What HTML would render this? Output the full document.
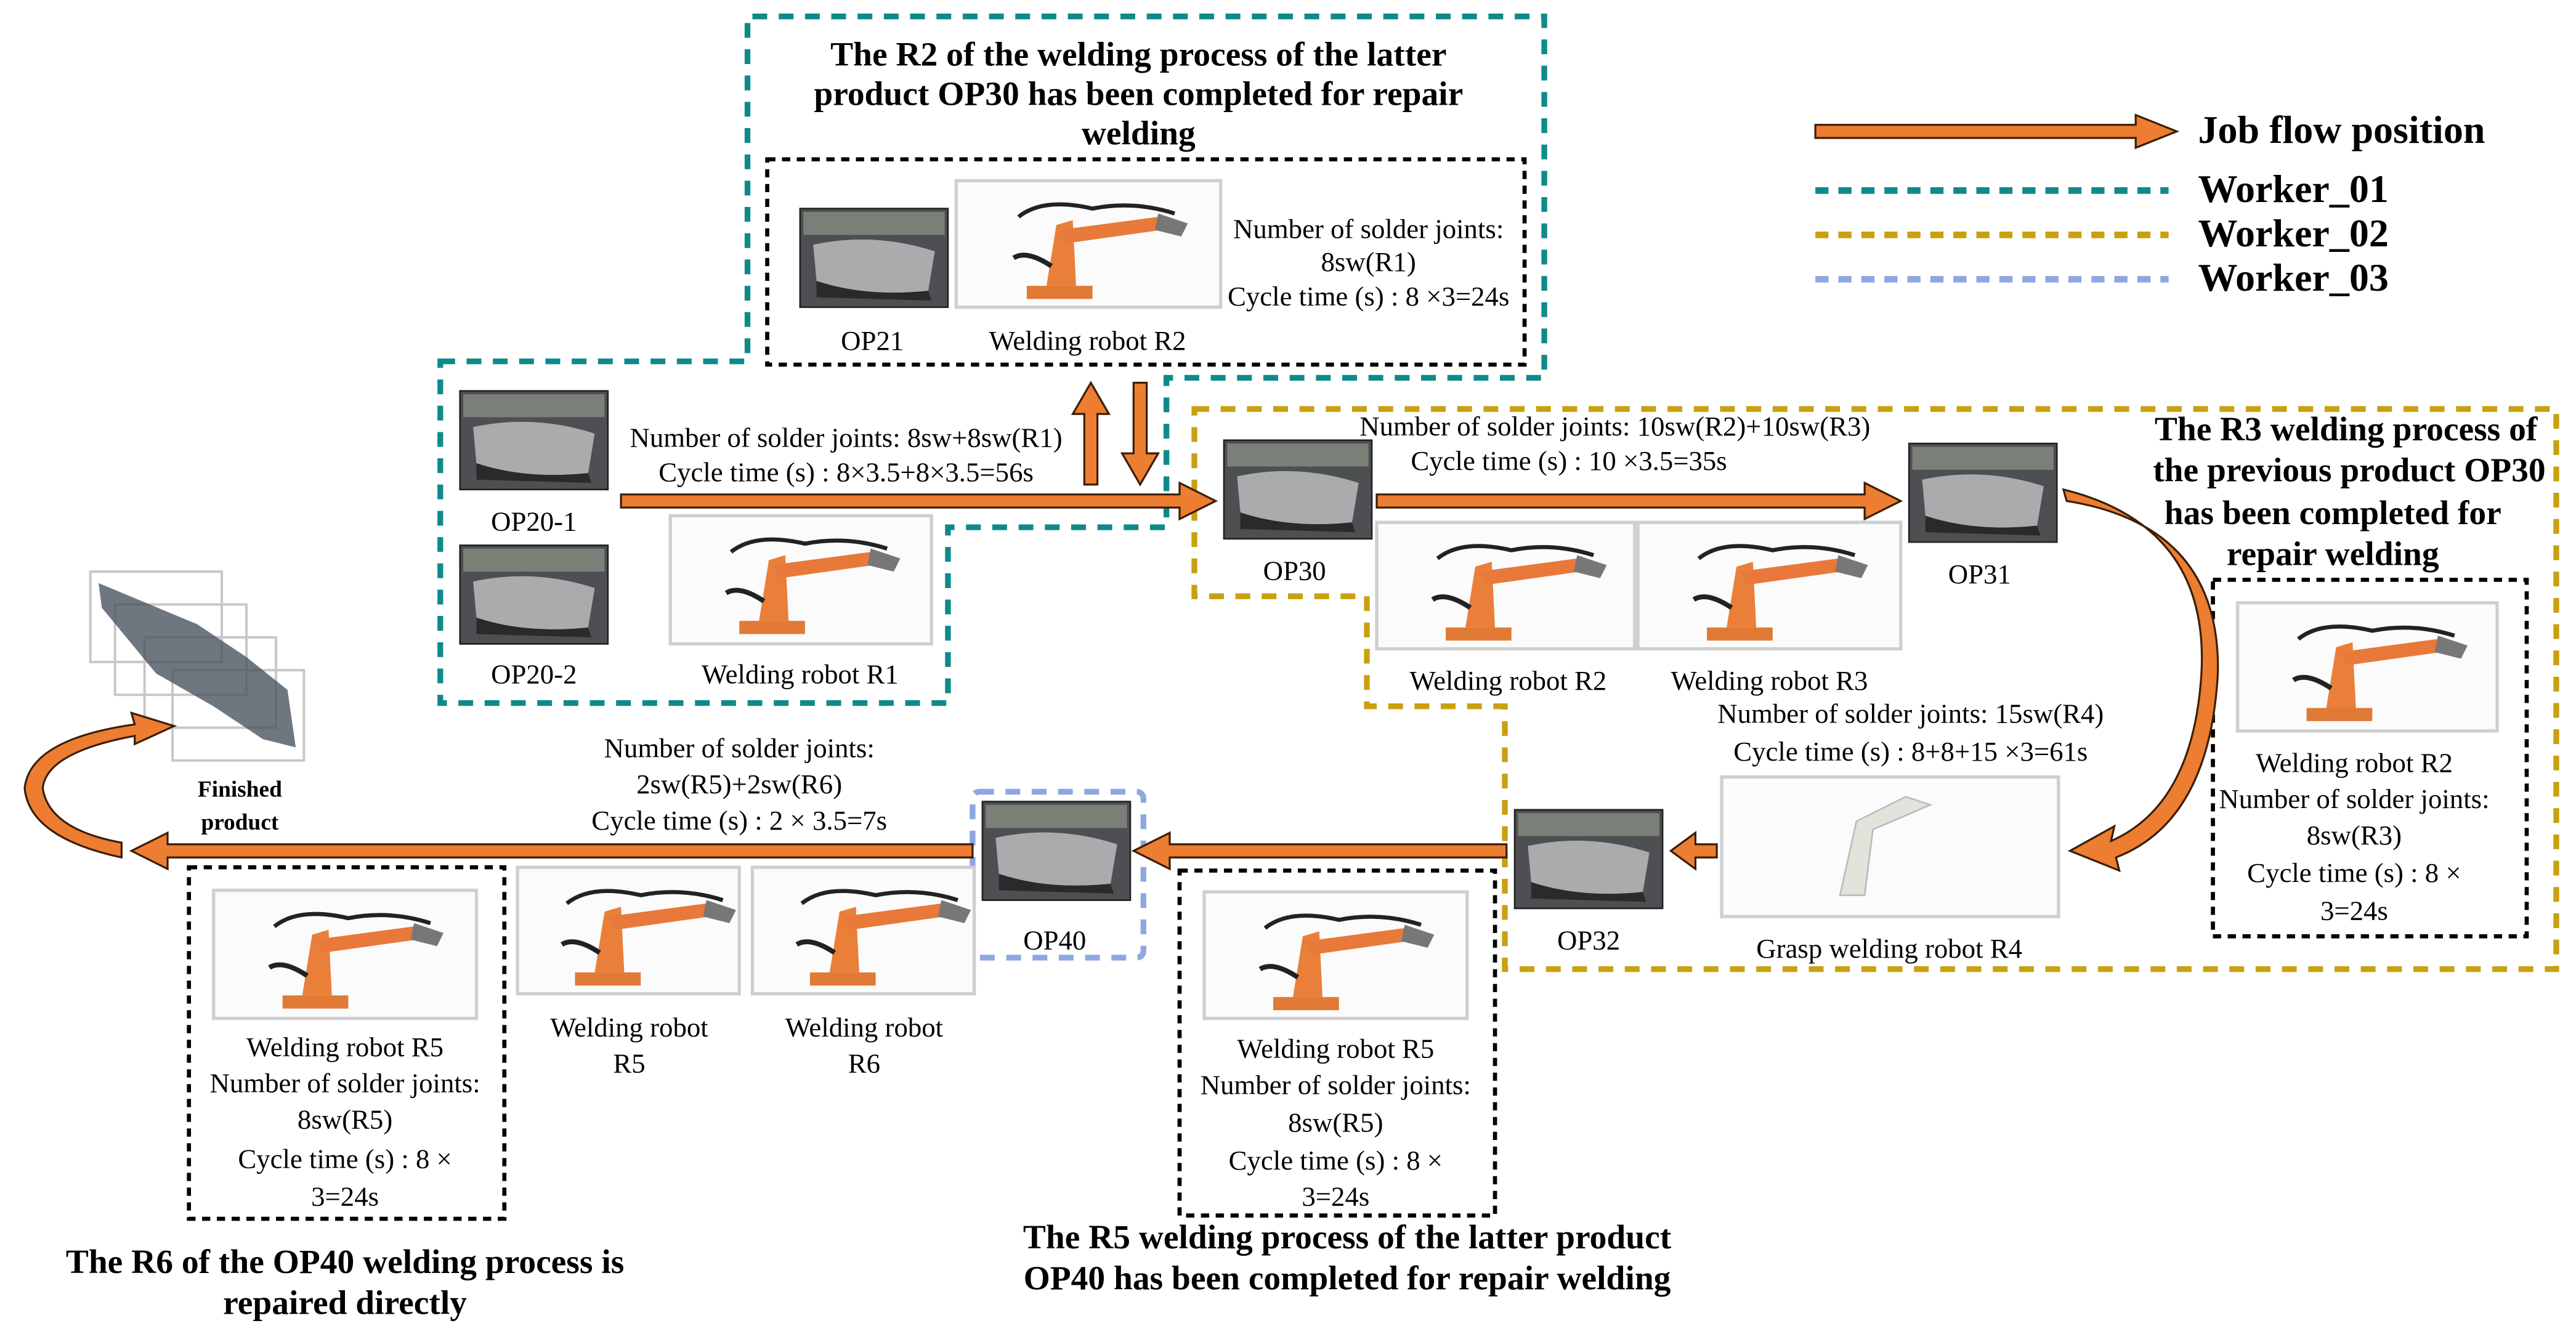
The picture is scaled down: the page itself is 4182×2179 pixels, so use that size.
<!DOCTYPE html>
<html><head><meta charset="utf-8"><style>
html,body{margin:0;padding:0;background:#fff}
svg{display:block}
text{font-family:"Liberation Serif","Times New Roman","DejaVu Serif",serif;fill:#000}
.t{font-size:16.8px;text-anchor:middle}
.b{font-size:20.8px;font-weight:bold;text-anchor:middle}
.lg{font-size:24px;font-weight:bold}
.arr{fill:#ED7D31;stroke:#3a1e08;stroke-width:1.2}
.op{fill:#4d4f52;stroke:#222;stroke-width:1}
.rb{fill:#fbfbfb;stroke:#cfcfcf;stroke-width:2}
</style></head><body>
<svg width="4182" height="2179" viewBox="0 0 1568 817" xmlns="http://www.w3.org/2000/svg">
<defs>
<g id="robot">
 <path d="M30,62 h40 v8 h-40z" fill="#e07a35"/>
 <path d="M42,62 L48,25 L58,22 L60,62z" fill="#ea7f3a"/>
 <path d="M50,28 L110,20 L112,28 L55,36z" fill="#e8793a"/>
 <path d="M25,20 Q40,8 70,15 Q95,10 120,18" fill="none" stroke="#222" stroke-width="2.5"/>
 <path d="M22,45 Q30,40 45,50" fill="none" stroke="#222" stroke-width="3"/>
 <path d="M110,18 l18,6 l-4,8 l-16,-4z" fill="#777"/>
</g>
<g id="opimg">
 <rect width="90" height="60" class="op"/>
 <rect x="2" y="2" width="86" height="14" fill="#7a8078"/>
 <path d="M8,22 Q45,14 82,26 L78,50 Q40,54 10,44z" fill="#a9abad"/>
 <path d="M10,44 Q40,54 78,50 L80,56 L10,54z" fill="#2a2a2a"/>
</g>
</defs>

<path d="M268,220 H455 V10 H940 V230 H710 V321 H577 V428 H268 Z" fill="none" stroke="#0f8a8a" stroke-width="3.5" stroke-dasharray="9,7"/>
<path d="M727,249 H1556 V590 H916 V430 H832 V363 H727 Z" fill="none" stroke="#c9a00f" stroke-width="3.5" stroke-dasharray="9,7"/>
<rect x="592" y="482" width="104" height="101" rx="4" fill="none" stroke="#8fa7e0" stroke-width="3.5" stroke-dasharray="9,7"/>

<rect x="467" y="97" width="461" height="125" fill="none" stroke="#000" stroke-width="2.5" stroke-dasharray="5,4"/>
<rect x="1347" y="353" width="191" height="217" fill="none" stroke="#000" stroke-width="2.5" stroke-dasharray="5,4"/>
<rect x="115" y="528" width="192" height="214" fill="none" stroke="#000" stroke-width="2.5" stroke-dasharray="5,4"/>
<rect x="718" y="530" width="192" height="210" fill="none" stroke="#000" stroke-width="2.5" stroke-dasharray="5,4"/>

<text class="b" x="693" y="40">The R2 of the welding process of the latter</text>
<text class="b" x="693" y="64">product OP30 has been completed for repair</text>
<text class="b" x="693" y="88">welding</text>

<use href="#opimg" x="487" y="127"/>
<rect x="582" y="110" width="161" height="77" class="rb"/><use href="#robot" x="595" y="112"/>
<text class="t" x="531" y="213">OP21</text>
<text class="t" x="662" y="213">Welding robot R2</text>
<text class="t" x="833" y="145">Number of solder joints:</text>
<text class="t" x="833" y="165">8sw(R1)</text>
<text class="t" x="833" y="186">Cycle time (s) : 8 ×3=24s</text>

<path class="arr" d="M660,295 V252 H653 L664,233 L675,252 H668 V295 Z"/>
<path class="arr" d="M690,233 V276 H683 L694,295 L705,276 H698 V233 Z"/>

<path class="arr" d="M1105,76 H1300 V70 L1325,80 L1300,90 V84 H1105 Z"/>
<text class="lg" x="1338" y="87">Job flow position</text>
<line x1="1105" y1="116" x2="1320" y2="116" stroke="#0f8a8a" stroke-width="4" stroke-dasharray="8,6"/>
<text class="lg" x="1338" y="123">Worker_01</text>
<line x1="1105" y1="143" x2="1320" y2="143" stroke="#c9a00f" stroke-width="4" stroke-dasharray="8,6"/>
<text class="lg" x="1338" y="150">Worker_02</text>
<line x1="1105" y1="170" x2="1320" y2="170" stroke="#8fa7e0" stroke-width="4" stroke-dasharray="8,6"/>
<text class="lg" x="1338" y="177">Worker_03</text>

<use href="#opimg" x="280" y="238"/>
<text class="t" x="325" y="323">OP20-1</text>
<use href="#opimg" x="280" y="332"/>
<text class="t" x="325" y="416">OP20-2</text>
<rect x="408" y="314" width="159" height="78" class="rb"/><use href="#robot" x="420" y="316"/>
<text class="t" x="487" y="416">Welding robot R1</text>
<text class="t" x="515" y="272">Number of solder joints: 8sw+8sw(R1)</text>
<text class="t" x="515" y="293">Cycle time (s) : 8×3.5+8×3.5=56s</text>
<path class="arr" d="M378,301 H718 V294 L740,305 L718,316 V309 H378 Z"/>

<use href="#opimg" x="745" y="268"/>
<text class="t" x="788" y="353">OP30</text>
<text class="t" x="983" y="265">Number of solder joints: 10sw(R2)+10sw(R3)</text>
<text class="t" x="955" y="286">Cycle time (s) : 10 ×3.5=35s</text>
<path class="arr" d="M838,301 H1135 V294 L1157,305 L1135,316 V309 H838 Z"/>
<rect x="838" y="318" width="157" height="77" class="rb"/><use href="#robot" x="850" y="320"/>
<rect x="997" y="318" width="160" height="77" class="rb"/><use href="#robot" x="1009" y="320"/>
<text class="t" x="918" y="420">Welding robot R2</text>
<text class="t" x="1077" y="420">Welding robot R3</text>
<use href="#opimg" x="1162" y="270"/>
<text class="t" x="1205" y="355">OP31</text>

<path class="arr" d="M1256,298 Q1345,320 1340,410 Q1335,490 1285,512 L1287,503 L1260,518 L1290,530 L1288,522 Q1345,500 1350,410 Q1352,320 1258,305 Z"/>

<text class="b" x="1428" y="268">The R3 welding process of</text>
<text class="b" x="1430" y="293">the previous product OP30</text>
<text class="b" x="1420" y="319">has been completed for</text>
<text class="b" x="1420" y="344">repair welding</text>
<rect x="1362" y="367" width="158" height="78" class="rb"/><use href="#robot" x="1374" y="369"/>
<text class="t" x="1433" y="470">Welding robot R2</text>
<text class="t" x="1433" y="492">Number of solder joints:</text>
<text class="t" x="1433" y="514">8sw(R3)</text>
<text class="t" x="1433" y="537">Cycle time (s) : 8  ×</text>
<text class="t" x="1433" y="560">3=24s</text>

<text class="t" x="1163" y="440">Number of solder joints: 15sw(R4)</text>
<text class="t" x="1163" y="463">Cycle time (s) : 8+8+15 ×3=61s</text>
<rect x="1048" y="473" width="205" height="85" fill="#fbfbfb" stroke="#cfcfcf" stroke-width="2"/>
<path d="M1120,545 L1130,500 L1160,485 L1175,490 L1140,505 L1135,545 Z" fill="#e3e3dc" stroke="#bbb"/>
<text class="t" x="1150" y="583">Grasp welding robot R4</text>
<use href="#opimg" x="922" y="493"/>
<text class="t" x="967" y="578">OP32</text>
<path class="arr" d="M1045,514 H1032 V507 L1017,518 L1032,529 V522 H1045 Z"/>

<path class="arr" d="M917,514 H712 V507 L690,518 L712,529 V522 H917 Z"/>
<use href="#opimg" x="598" y="488"/>
<text class="t" x="642" y="578">OP40</text>
<path class="arr" d="M592,514 H102 V507 L80,518 L102,529 V522 H592 Z"/>

<text class="t" x="450" y="461">Number of solder joints:</text>
<text class="t" x="450" y="483">2sw(R5)+2sw(R6)</text>
<text class="t" x="450" y="505">Cycle time (s) : 2 × 3.5=7s</text>

<rect x="315" y="528" width="135" height="77" class="rb"/><use href="#robot" x="320" y="530"/>
<rect x="458" y="528" width="135" height="77" class="rb"/><use href="#robot" x="463" y="530"/>
<text class="t" x="383" y="631">Welding robot</text>
<text class="t" x="383" y="653">R5</text>
<text class="t" x="526" y="631">Welding robot</text>
<text class="t" x="526" y="653">R6</text>

<rect x="130" y="542" width="160" height="78" class="rb"/><use href="#robot" x="142" y="544"/>
<text class="t" x="210" y="643">Welding robot R5</text>
<text class="t" x="210" y="665">Number of solder joints:</text>
<text class="t" x="210" y="687">8sw(R5)</text>
<text class="t" x="210" y="711">Cycle time (s) : 8  ×</text>
<text class="t" x="210" y="734">3=24s</text>

<rect x="733" y="543" width="160" height="77" class="rb"/><use href="#robot" x="745" y="545"/>
<text class="t" x="813" y="644">Welding robot R5</text>
<text class="t" x="813" y="666">Number of solder joints:</text>
<text class="t" x="813" y="689">8sw(R5)</text>
<text class="t" x="813" y="712">Cycle time (s) : 8  ×</text>
<text class="t" x="813" y="734">3=24s</text>

<text class="b" x="820" y="760">The R5 welding process of the latter product</text>
<text class="b" x="820" y="785">OP40 has been completed for repair welding</text>
<text class="b" x="210" y="775">The R6 of the OP40 welding process is</text>
<text class="b" x="210" y="800">repaired directly</text>

<g fill="none" stroke="#c8c8c8" stroke-width="1.5">
<rect x="55" y="348" width="80" height="55"/><rect x="70" y="368" width="80" height="55"/>
<rect x="88" y="388" width="80" height="55"/><rect x="105" y="408" width="80" height="55"/>
</g>
<path d="M60,355 L120,380 L150,400 L175,420 L180,455 L160,450 L130,430 L95,410 L62,370 Z" fill="#4a5560" opacity="0.8"/>
<text x="146" y="485" style="font-size:14px;font-weight:bold;text-anchor:middle">Finished</text>
<text x="146" y="505" style="font-size:14px;font-weight:bold;text-anchor:middle">product</text>

<path class="arr" d="M74,522 Q18,510 15,480 Q18,450 82,441 L80,434 L106,442 L82,453 L82,448 Q28,458 26,480 Q30,505 74,513 Z"/>
</svg>
</body></html>
